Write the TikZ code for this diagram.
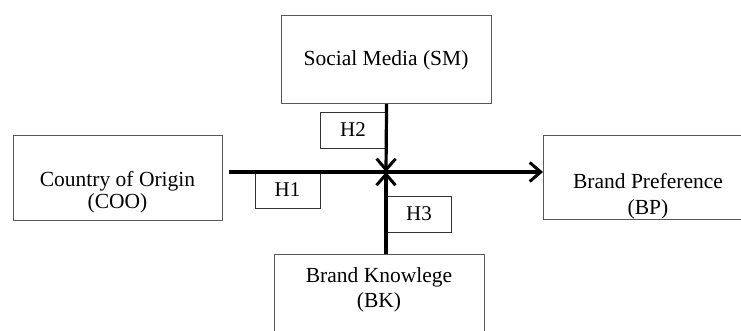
\documentclass[tikz,border=0pt]{standalone}
\usepackage{fontspec}
\setmainfont{Liberation Serif}
\usetikzlibrary{arrows.meta}
\begin{document}
\begin{tikzpicture}[x=1pt,y=-1pt,
  box/.style={draw=black!65, line width=1.1pt, fill=white, inner sep=0pt, anchor=north west},
  hbox/.style={draw=black!80, line width=0.9pt, inner sep=0pt, minimum width=65pt, minimum height=36pt,
    font=\fontsize{21}{24}\selectfont},
  lbl/.style={inner sep=0pt, align=center, font=\fontsize{21.5}{22.5}\selectfont},
  lblw/.style={inner sep=0pt, align=center, font=\fontsize{21.5}{25.5}\selectfont},
  arr/.style={line width=3.2pt, -{Straight Barb[length=11pt,width=19pt,line width=3pt]}}]
\useasboundingbox (0,0) rectangle (741,331);
% boxes
\node[box, minimum width=209pt, minimum height=85pt] (COO) at (13,135) {};
\node[box, minimum width=210pt, minimum height=88pt] (SM) at (281,15) {};
\node[box, minimum width=210pt, minimum height=84pt] (BP) at (543,135) {};
\node[box, minimum width=210pt, minimum height=95pt] (BK) at (274,254) {};
% texts
\node[lbl] (COOt) at (117.5,192) {Country of Origin\\(COO)};
\node[lbl] (SMt) at (386,60) {Social Media (SM)};
\node[lblw] (BPt) at (648,196) {Brand Preference\\(BP)};
\node[lblw] (BKt) at (379,290) {Brand Knowlege\\(BK)};
% hypothesis boxes
\node[hbox] (H1) at (287.5,190) {H1};
\node[hbox] (H2) at (353,130) {H2};
\node[hbox] (H3) at (419,214) {H3};
% connectors
\coordinate (hstart) at (229,172);
\coordinate (junc) at (386,172);
\draw[arr] (hstart) -- (hstart -| BP.west);
\draw[arr] (SM.south) -- (junc);
\draw[arr] (junc |- BK.north) -- (junc);
\end{tikzpicture}
\end{document}
